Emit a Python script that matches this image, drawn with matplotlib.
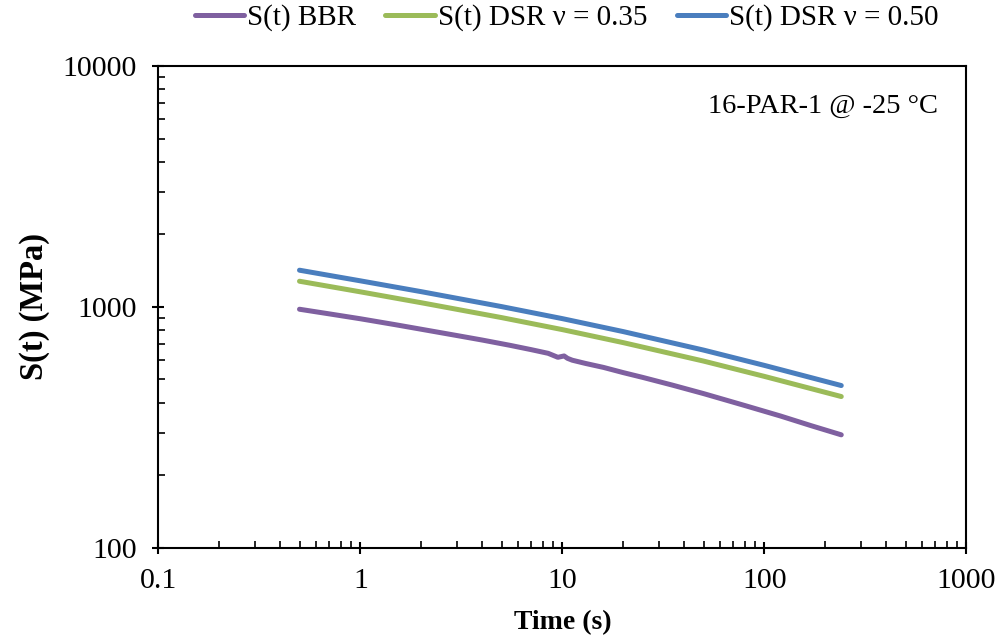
import numpy as np
import matplotlib
matplotlib.use("Agg")
import matplotlib.pyplot as plt
from matplotlib.ticker import LogLocator, FixedLocator, NullFormatter

plt.rcParams['font.family'] = ['Liberation Serif', 'DejaVu Serif']

# Data
t_bbr = [0.5, 0.7, 1, 1.5, 2, 3, 4, 5.5, 7, 8.5, 9.5, 10.2, 10.6, 11.2, 13, 16, 20, 25, 35, 50, 80, 120, 170, 240]
s_bbr = [977, 935, 892, 842, 807, 760, 728, 692, 664, 641, 617, 625, 611, 600, 582, 560, 533, 509, 473, 436, 389, 352, 321, 294]
t_dsr = [0.5, 1, 2, 5, 10, 20, 50, 100, 240]
s_dsr35 = [1277, 1154, 1040, 902, 804, 710, 595, 514, 424]
s_dsr50 = [1419, 1282, 1156, 1002, 893, 789, 661, 571, 471]
labels = ["S(t) BBR", "S(t) DSR \u03bd = 0.35", "S(t) DSR \u03bd = 0.50"]
colors = ["#7F60A0", "#9BBB59", "#4A7EBE"]
annotation = "16-PAR-1 @ -25 \u00b0C"

fig = plt.figure(figsize=(10.03, 6.36), dpi=100)
ax = fig.add_axes([0.1578, 0.139, 0.8058, 0.7572])

ax.plot(t_bbr, s_bbr, color=colors[0], lw=3.6, solid_capstyle='round', solid_joinstyle='round', label=labels[0])
ax.plot(t_dsr, s_dsr35, color=colors[1], lw=3.6, solid_capstyle='round', solid_joinstyle='round', label=labels[1])
ax.plot(t_dsr, s_dsr50, color=colors[2], lw=3.6, solid_capstyle='round', solid_joinstyle='round', label=labels[2])

ax.set_xscale('log')
ax.set_yscale('log')
ax.set_xlim(0.1, 1000)
ax.set_ylim(100, 10000)

ax.xaxis.set_major_locator(FixedLocator([0.1, 1, 10, 100, 1000]))
ax.set_xticklabels(["0.1", "1", "10", "100", "1000"])
ax.yaxis.set_major_locator(FixedLocator([100, 1000, 10000]))
ax.set_yticklabels(["100", "1000", "10000"])
ax.xaxis.set_minor_locator(LogLocator(base=10, subs=np.arange(2, 10)))
ax.yaxis.set_minor_locator(LogLocator(base=10, subs=np.arange(2, 10)))
ax.xaxis.set_minor_formatter(NullFormatter())
ax.yaxis.set_minor_formatter(NullFormatter())

ax.tick_params(which='major', direction='inout', length=9, width=1.5, labelsize=21.5)
ax.tick_params(axis='y', which='major', pad=11)
ax.tick_params(axis='x', which='major', pad=10)
ax.tick_params(which='minor', direction='in', length=5, width=1.2)
ax.tick_params(top=False, right=False, which='both')
for sp in ax.spines.values():
    sp.set_linewidth(1.5)
    sp.set_color('black')

ax.set_xlabel("Time (s)", fontsize=20, fontweight='bold', labelpad=12)
ax.set_ylabel("S(t) (MPa)", fontsize=23.5, fontweight='bold', labelpad=9)

fig.text(0.935, 0.832, annotation, ha='right', va='center', fontsize=20.5)

leg = fig.legend(loc='center', bbox_to_anchor=(0.565, 0.972), ncol=3, frameon=False,
                 fontsize=21, handlelength=1.7, handletextpad=0.1, columnspacing=1.0)

fig.savefig("out.png", dpi=100)
